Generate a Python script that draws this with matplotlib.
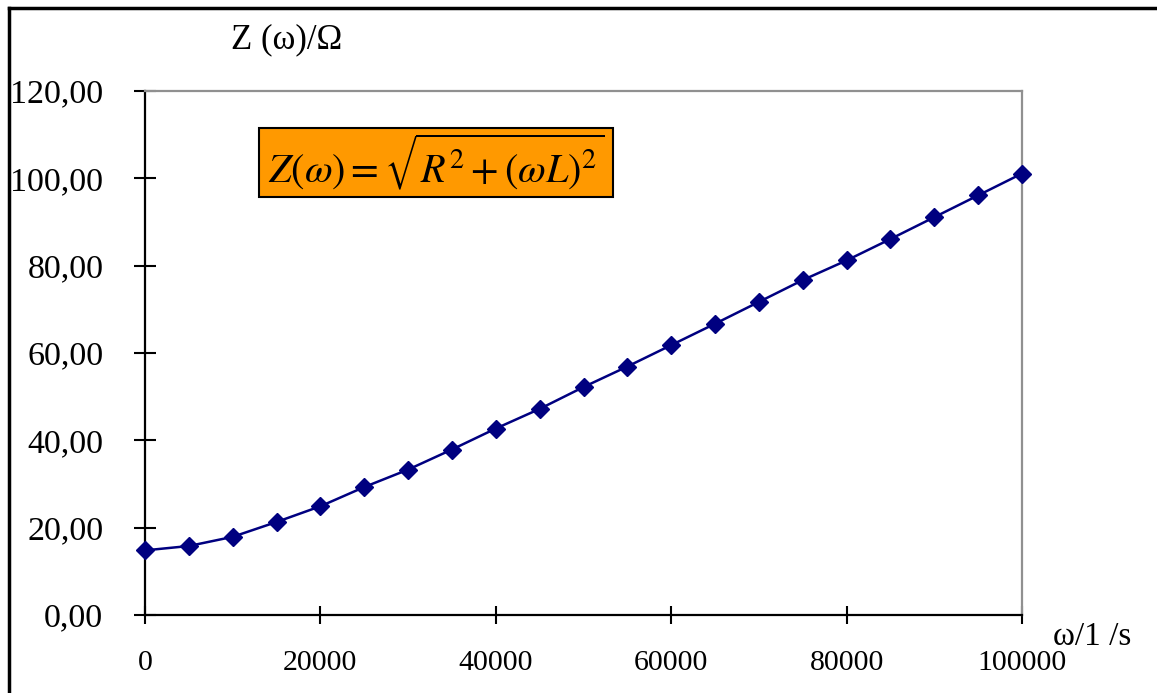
import matplotlib
matplotlib.use("Agg")
import matplotlib.pyplot as plt
from matplotlib.patches import Rectangle
from matplotlib.lines import Line2D

omega = [0, 5000, 10000, 15000, 20000, 25000, 30000, 35000, 40000, 45000, 50000,
         55000, 60000, 65000, 70000, 75000, 80000, 85000, 90000, 95000, 100000]
impedance = [14.8, 15.8, 17.9, 21.3, 24.9, 29.3, 33.3, 37.9, 42.7, 47.2, 52.2,
             56.9, 61.8, 66.7, 71.7, 76.7, 81.2, 86.1, 91.1, 96.1, 101.1]
x_ticks = [0, 20000, 40000, 60000, 80000, 100000]
x_tick_labels = ["0", "20000", "40000", "60000", "80000", "100000"]
y_ticks = [0, 20, 40, 60, 80, 100, 120]
y_tick_labels = ["0,00", "20,00", "40,00", "60,00", "80,00", "100,00", "120,00"]
y_label = "Z (ω)/Ω"
x_label = "ω/1 /s"
formula = r"$Z(\omega) = \sqrt{R^{2} + (\omega L)^{2}}$"

plt.rcParams['font.family'] = ['Liberation Serif', 'DejaVu Serif']
plt.rcParams['mathtext.fontset'] = 'stix'

W, H = 1157, 693
fig = plt.figure(figsize=(W / 100, H / 100), dpi=100)
ax = fig.add_axes([145 / W, (H - 615) / H, (1022 - 145) / W, (615 - 91) / H])

ax.plot(omega, impedance, color='#000080', lw=1.8, marker='D', ms=9.5,
        markerfacecolor='#000080', markeredgecolor='#000080', clip_on=False, zorder=3)

ax.set_xlim(0, 100000)
ax.set_ylim(0, 120)
ax.set_xticks(x_ticks)
ax.set_xticklabels(x_tick_labels, fontsize=21.5)
ax.set_yticks(y_ticks)
ax.set_yticklabels(y_tick_labels, fontsize=24.5)
ax.tick_params(axis='y', direction='inout', length=16, width=1.5, pad=22, color='black')
ax.tick_params(axis='x', direction='inout', length=13, width=1.5, pad=19, color='black')

for s in ['left', 'bottom']:
    ax.spines[s].set_color('black')
    ax.spines[s].set_linewidth(1.6)
for s in ['top', 'right']:
    ax.spines[s].set_color('#909090')
    ax.spines[s].set_linewidth(1.6)

fig.text(287 / W, 1 - 40 / H, y_label, fontsize=25, ha='center', va='center')
fig.text(1092 / W, 1 - 637 / H, x_label, fontsize=24, ha='center', va='center')

# formula box
x0, y0, x1, y1 = 259, 128, 613, 197
fig.patches.append(Rectangle((x0 / W, 1 - y1 / H), (x1 - x0) / W, (y1 - y0) / H,
                             transform=fig.transFigure, facecolor='#FF9900',
                             edgecolor='black', lw=1.5, zorder=5))
fig.text((x0 + x1) / 2 / W, 1 - 162 / H, formula, fontsize=29, ha='center', va='center', zorder=6)

# outer frame (left and top)
fig.lines.append(Line2D([9 / W, 9 / W], [0, 1 - 8 / H], transform=fig.transFigure, color='black', lw=2.5))
fig.lines.append(Line2D([9 / W, 1], [1 - 8 / H, 1 - 8 / H], transform=fig.transFigure, color='black', lw=2.5))

fig.savefig("out.png", dpi=100)
